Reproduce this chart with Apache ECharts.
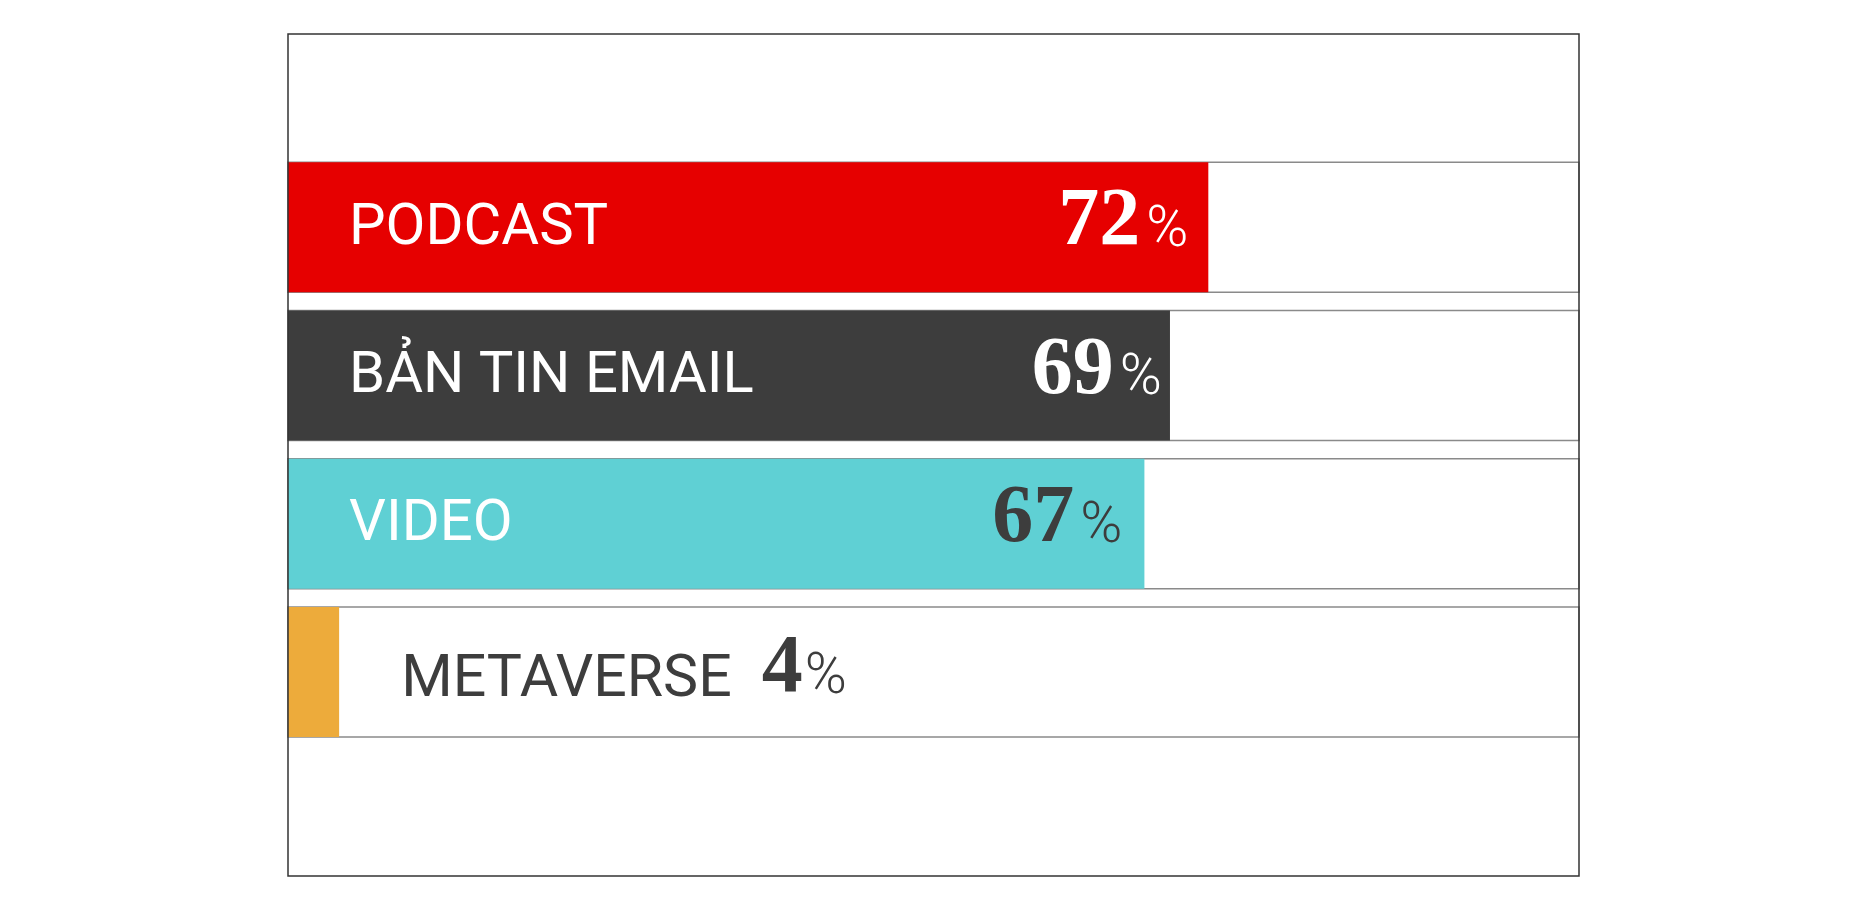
<!DOCTYPE html>
<html>
<head>
<meta charset="utf-8">
<script src="https://cdn.jsdelivr.net/npm/echarts@6/dist/echarts.min.js"></script>
<style>
html,body{margin:0;padding:0;background:#fff;}
#chart{width:1863px;height:914px;}
</style>
</head>
<body>
<div id="chart"></div>
<script>
const categories = ['PODCAST', 'BẢN TIN EMAIL', 'VIDEO', 'METAVERSE'];
const values = [72, 69, 67, 4];
const barColors = ['#e60000', '#3d3d3d', '#5fd0d4', '#edab3b'];
const valueLabelColors = ['#ffffff', '#ffffff', '#3d3d3d', '#3d3d3d'];
const nameLabelColors = ['#ffffff', '#ffffff', '#ffffff', '#3d3d3d'];
const valueLabelDistance = [20, 8, 22, 0];

const numFont = '"Liberation Serif", serif';
const sansFont = 'Roboto, "Noto Sans", sans-serif';

function richFor(color) {
  return {
    name: { fontFamily: sansFont, fontSize: 58, color: color, fontWeight: 400, verticalAlign: 'bottom', padding: [2, 0, 0, 0] },
    num: { fontFamily: numFont, fontSize: 82, fontWeight: 'bold', color: color, verticalAlign: 'bottom', padding: [0, 6, 0, 0] },
    pct: { fontFamily: sansFont, fontSize: 57, fontWeight: 300, color: color, verticalAlign: 'bottom', padding: [0, 0, 4, 0] }
  };
}

const mainData = values.map((v, i) => {
  const item = { value: v, itemStyle: { color: barColors[i] } };
  if (i < 3) {
    item.label = {
      show: true, position: 'insideLeft', distance: 61, offset: [0, 1],
      formatter: '{name|' + categories[i] + '}',
      rich: richFor(nameLabelColors[i])
    };
  } else {
    const r = richFor(nameLabelColors[i]);
    r.name = Object.assign({}, r.name, { fontSize: 59 });
    r.num = Object.assign({}, r.num, { padding: [0, 2, 0, 30] });
    item.label = {
      show: true, position: 'right', distance: 62, offset: [0, -2],
      formatter: '{name|' + categories[i] + '}{num|' + v + '}{pct|%}',
      rich: r
    };
  }
  return item;
});

const valueData = values.map((v, i) => {
  const item = { value: v, itemStyle: { color: 'rgba(0,0,0,0)' } };
  if (i < 3) {
    item.label = {
      show: true, position: 'insideRight', distance: valueLabelDistance[i], offset: [0, -4],
      formatter: '{num|' + v + '}{pct|%}',
      rich: richFor(valueLabelColors[i])
    };
  } else {
    item.label = { show: false };
  }
  return item;
});

const chart = echarts.init(document.getElementById('chart'), null, { renderer: 'canvas' });
chart.setOption({
  backgroundColor: '#ffffff',
  animation: false,
  grid: [
    { left: 288, right: 284, top: 153, bottom: 168, containLabel: false },
    { left: 288, right: 284, top: 34, bottom: 38, show: true, borderColor: '#333', borderWidth: 1.5, backgroundColor: 'transparent', z: 10 }
  ],
  xAxis: [
    { type: 'value', gridIndex: 0, min: 0, max: 101, show: false },
    { type: 'value', gridIndex: 1, min: 0, max: 100, show: false }
  ],
  yAxis: [
    { type: 'category', gridIndex: 0, data: categories, inverse: true, show: false },
    { type: 'category', gridIndex: 1, data: [''], show: false }
  ],
  series: [
    {
      type: 'bar', xAxisIndex: 0, yAxisIndex: 0,
      barWidth: 130,
      showBackground: true,
      backgroundStyle: { color: '#ffffff', borderColor: '#8a8a8a', borderWidth: 1.5 },
      data: mainData
    },
    {
      type: 'bar', xAxisIndex: 0, yAxisIndex: 0,
      barWidth: 130, barGap: '-100%',
      data: valueData,
      z: 5
    }
  ]
});
</script>
</body>
</html>
